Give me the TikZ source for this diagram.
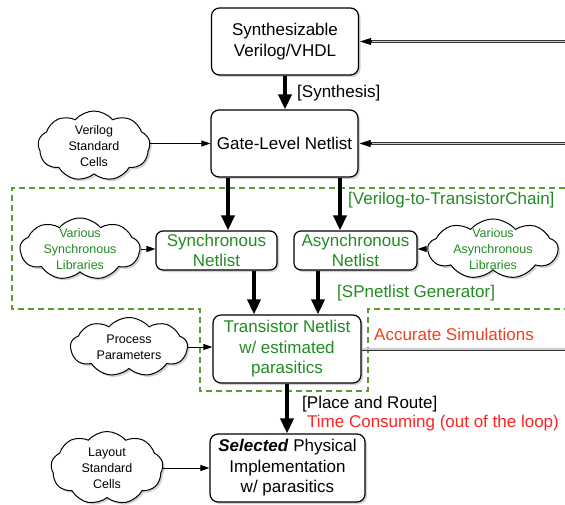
\documentclass[tikz,border=0pt]{standalone}
\usepackage{fontspec}
\setmainfont{Liberation Sans}
\usetikzlibrary{shapes.symbols,shadows,arrows.meta,calc}
\definecolor{tgreen}{RGB}{34,139,34}
\definecolor{dgreen}{RGB}{92,156,50}
\definecolor{ored}{RGB}{240,64,30}
\definecolor{tred}{RGB}{255,36,36}
\tikzset{
  box/.style={draw, line width=1.2pt, rounded corners=8pt, fill=white, align=center,
    inner sep=0pt, font=\fontsize{17}{20.5}\selectfont,
    drop shadow={shadow xshift=2pt, shadow yshift=-2pt, opacity=0.35}},
  gbox/.style={box, text=tgreen},
  cloudshape/.style={cloud, cloud puffs=9, cloud puff arc=100, cloud ignores aspect,
    draw, line width=1pt, fill=white, inner sep=0pt,
    drop shadow={shadow xshift=2pt, shadow yshift=-2pt, opacity=0.35}},
  ctext/.style={align=center, inner sep=0pt, font=\fontsize{12.5}{16}\selectfont},
  lbl/.style={anchor=west, inner sep=0pt, font=\fontsize{17}{20}\selectfont},
  thk/.style={line width=3.5pt, -{Triangle[width=13pt,length=15pt]}},
  thn/.style={line width=0.9pt, -{Triangle[width=6pt,length=9pt]}},
  dbl/.style={draw=black!80, line width=0.8pt, double=black!20, double distance=1.4pt},
  tipa/.style={line width=0.6pt, -{Triangle[width=7pt,length=11pt]}},
  region/.style={draw=dgreen, line width=1.2pt, dash pattern=on 6pt off 4pt}
}
\begin{document}
\begin{tikzpicture}[x=1pt,y=-1pt]
\fill[white] (0,0) rectangle (565,505);
\useasboundingbox (0,0) rectangle (565,505);

% dashed region
\draw[region] (565,188) -- (12,188) -- (12,309) -- (200,309) -- (200,391)
  -- (368,391) -- (368,309) -- (565,309);

% boxes
\node[box, minimum width=147pt, minimum height=67pt] (synth) at (285,41.5) {Synthesizable\\Verilog/VHDL};
\node[box, minimum width=147pt, minimum height=67pt] (gate) at (284.5,143.5) {Gate-Level Netlist};
\node[gbox, minimum width=121pt, minimum height=39pt, rounded corners=7pt] (sync) at (216.5,250.5) {Synchronous\\Netlist};
\node[gbox, minimum width=123pt, minimum height=39pt, rounded corners=7pt] (async) at (355.5,250.5) {Asynchronous\\Netlist};
\node[gbox, minimum width=148pt, minimum height=68pt] (trans) at (287,349) {Transistor Netlist\\w/ estimated\\parasitics};
\node[box, minimum width=155pt, minimum height=68pt] (sel) at (287.5,468) {\textbf{\textit{Selected}} Physical\\Implementation\\w/ parasitics};

% clouds
\node[cloudshape, minimum width=112pt, minimum height=70pt] (vsc) at (94,146) {};
\node[ctext] (vsct) at (vsc) {Verilog\\Standard\\Cells};
\node[cloudshape, minimum width=120pt, minimum height=62pt] (vsl) at (80,249) {};
\node[ctext, text=tgreen] (vslt) at (vsl) {Various\\Synchronous\\Libraries};
\node[cloudshape, minimum width=130pt, minimum height=60pt] (val) at (493,249) {};
\node[ctext, text=tgreen] (valt) at (val) {Various\\Asynchronous\\Libraries};
\node[cloudshape, minimum width=117pt, minimum height=59pt] (pp) at (129,347) {};
\node[ctext] (ppt) at (pp) {Process\\Parameters};
\node[cloudshape, minimum width=112pt, minimum height=73pt] (lsc) at (107,468) {};
\node[ctext] (lsct) at (lsc) {Layout\\Standard\\Cells};

% helper x positions
\coordinate (xa) at (228,0);
\coordinate (xb) at (340,0);
\coordinate (xc) at (254,0);
\coordinate (xd) at (318,0);
\coordinate (r1) at (565,41.5);
\coordinate (r2) at (565,143.5);
\coordinate (r3) at (565,349);

% thick arrows
\draw[thk] (synth.south) -- (synth.south |- gate.north);
\draw[thk] (gate.south -| xa) -- (sync.north -| xa);
\draw[thk] (gate.south -| xb) -- (async.north -| xb);
\draw[thk] (sync.south -| xc) -- (trans.north -| xc);
\draw[thk] (async.south -| xd) -- (trans.north -| xd);
\draw[thk] (trans.south) -- (trans.south |- sel.north);

% thin arrows
\draw[thn] (vsc.east |- gate.west) -- (gate.west);
\draw[thn] (vsl.east) -- (vsl.east -| sync.west);
\draw[thn] (val.west) -- (val.west -| async.east);
\draw[thn] (pp.east) -- (pp.east -| trans.west);
\draw[thn] (lsc.east) -- (lsc.east -| sel.west);

% double lines from the right
\draw[dbl] (r1) -- ([xshift=9pt]synth.east);
\draw[tipa] ([xshift=13pt]synth.east) -- ([xshift=1pt]synth.east);
\draw[dbl] (r2) -- ([xshift=9pt]gate.east);
\draw[tipa] ([xshift=13pt]gate.east) -- ([xshift=1pt]gate.east);
\draw[dbl] (trans.east) -- (r3);

% labels
\node[lbl] (l1) at (297,93) {[Synthesis]};
\node[lbl, text=tgreen] (l2) at (348,200) {[Verilog-to-TransistorChain]};
\node[lbl, text=tgreen] (l3) at (337,293) {[SPnetlist Generator]};
\node[lbl, text=ored] (l4) at (374,334) {Accurate Simulations};
\node[lbl] (l5) at (302,404) {[Place and Route]};
\node[lbl, text=tred] (l6) at (307,423) {Time Consuming (out of the loop)};
\end{tikzpicture}
\end{document}
